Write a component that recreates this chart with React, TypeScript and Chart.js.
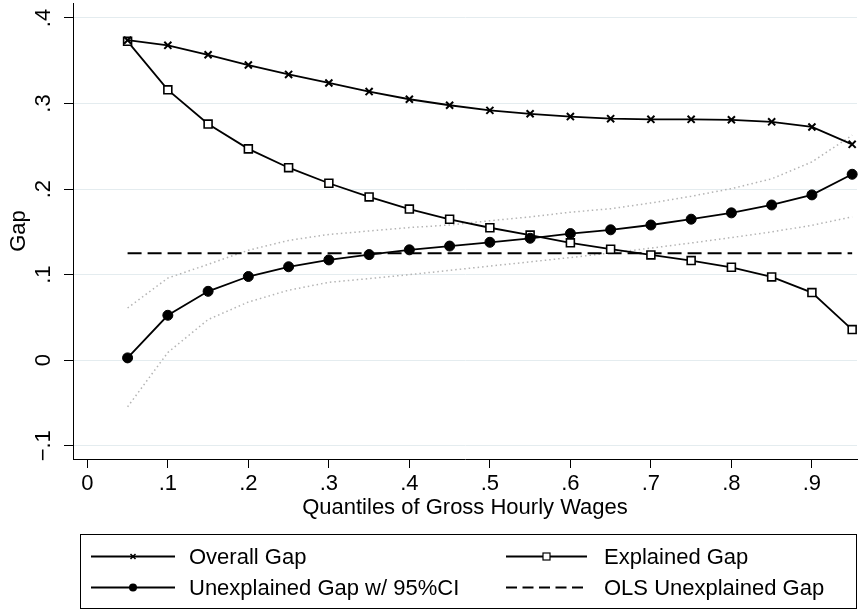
import React, { useEffect, useRef } from 'react';
import { Chart, registerables } from 'chart.js';

Chart.register(...registerables);

// ---------------- data ----------------
const quantiles = [0.05, 0.1, 0.15, 0.2, 0.25, 0.3, 0.35, 0.4, 0.45, 0.5, 0.55, 0.6, 0.65, 0.7, 0.75, 0.8, 0.85, 0.9, 0.95];
const overallGap = [0.374, 0.368, 0.357, 0.345, 0.334, 0.324, 0.314, 0.305, 0.298, 0.292, 0.288, 0.2847, 0.2823, 0.2815, 0.2815, 0.281, 0.2786, 0.2726, 0.2523];
const explainedGap = [0.3727, 0.316, 0.276, 0.247, 0.225, 0.2068, 0.1908, 0.1766, 0.1647, 0.1548, 0.1462, 0.1372, 0.1297, 0.123, 0.1164, 0.1086, 0.0973, 0.079, 0.0358];
const unexplainedGap = [0.0027, 0.0525, 0.0805, 0.0978, 0.1092, 0.1172, 0.1234, 0.129, 0.1334, 0.1378, 0.1425, 0.148, 0.1524, 0.158, 0.1648, 0.1722, 0.1814, 0.1932, 0.2173];
const ciUpper = [0.061, 0.096, 0.112, 0.1285, 0.14, 0.147, 0.151, 0.155, 0.158, 0.163, 0.1675, 0.173, 0.177, 0.1838, 0.1916, 0.2005, 0.212, 0.2317, 0.263];
const ciLower = [-0.0545, 0.009, 0.0475, 0.068, 0.0818, 0.091, 0.0954, 0.1, 0.105, 0.11, 0.1149, 0.12, 0.1253, 0.131, 0.137, 0.1433, 0.1499, 0.1577, 0.1675];
const olsQuantiles = [0.05, 0.95];
const olsGap = [0.125, 0.125];

const xTickValues = [0, 0.1, 0.2, 0.3, 0.4, 0.5, 0.6, 0.7, 0.8, 0.9];
const xTickLabels = ['0', '.1', '.2', '.3', '.4', '.5', '.6', '.7', '.8', '.9'];
const yTickValues = [-0.1, 0, 0.1, 0.2, 0.3, 0.4];
const yTickLabels = ['\u2212.1', '0', '.1', '.2', '.3', '.4'];

const legendLabels = ['Overall Gap', 'Explained Gap', 'Unexplained Gap w/ 95%CI', 'OLS Unexplained Gap'];
const xTitle = 'Quantiles of Gross Hourly Wages';
const yTitle = 'Gap';

const FONT = "'Liberation Sans', Arial, Helvetica, sans-serif";
const FS = 22;

function pts(xs: number[], ys: number[]) {
  return xs.map((x, i) => ({ x, y: ys[i] }));
}

function drawMarker(ctx: CanvasRenderingContext2D, kind: string, x: number, y: number) {
  ctx.save();
  ctx.setLineDash([]);
  ctx.strokeStyle = '#000';
  if (kind === 'crossRot') {
    ctx.lineWidth = 1.5;
    ctx.beginPath();
    ctx.moveTo(x - 2.5, y - 2.5); ctx.lineTo(x + 2.5, y + 2.5);
    ctx.moveTo(x - 2.5, y + 2.5); ctx.lineTo(x + 2.5, y - 2.5);
    ctx.stroke();
  } else if (kind === 'rect') {
    ctx.lineWidth = 1.2;
    ctx.fillStyle = '#fff';
    ctx.fillRect(x - 3.5, y - 3.5, 7, 7);
    ctx.strokeRect(x - 3.5, y - 3.5, 7, 7);
  } else if (kind === 'circle') {
    ctx.fillStyle = '#000';
    ctx.beginPath();
    ctx.arc(x, y, 4, 0, Math.PI * 2);
    ctx.fill();
  }
  ctx.restore();
}

const legendPlugin = {
  id: 'stataLegend',
  afterDraw(chart: any) {
    const ctx: CanvasRenderingContext2D = chart.ctx;
    ctx.save();
    const L = 80, T = 534, R = 857, B = 609;
    ctx.strokeStyle = '#000';
    ctx.lineWidth = 1;
    ctx.strokeRect(L + 0.5, T + 0.5, R - L - 1, B - T - 1);
    const items = [
      { ds: 0, col: 0, row: 0, label: legendLabels[0] },
      { ds: 1, col: 1, row: 0, label: legendLabels[1] },
      { ds: 2, col: 0, row: 1, label: legendLabels[2] },
      { ds: 5, col: 1, row: 1, label: legendLabels[3] },
    ];
    const symX = [91, 506];
    const symW = [84, 81];
    const txtX = [189, 604];
    const rowY = [556.5, 587.5];
    ctx.font = `${FS}px ${FONT}`;
    ctx.textBaseline = 'middle';
    ctx.textAlign = 'left';
    ctx.fillStyle = '#000';
    items.forEach((it) => {
      const ds = chart.data.datasets[it.ds];
      const y = rowY[it.row];
      const x0 = symX[it.col];
      const w = symW[it.col];
      ctx.save();
      ctx.strokeStyle = '#000';
      ctx.lineWidth = 1.8;
      ctx.setLineDash(ds.borderDash ? [11, 5.5] : []);
      ctx.beginPath();
      ctx.moveTo(x0, y);
      ctx.lineTo(x0 + w, y);
      ctx.stroke();
      ctx.restore();
      if (ds.pointRadius > 0) drawMarker(ctx, ds.pointStyle, x0 + w / 2, y);
      ctx.fillText(it.label, txtX[it.col], y + 1);
    });
    ctx.restore();
  },
};

export default function App() {
  const ref = useRef<HTMLCanvasElement | null>(null);
  useEffect(() => {
    if (!ref.current) return;
    Chart.defaults.font.family = FONT;
    Chart.defaults.color = '#000';
    const chart = new Chart(ref.current, {
      type: 'line',
      data: {
        datasets: [
          { label: legendLabels[0], data: pts(quantiles, overallGap), borderColor: '#000', borderWidth: 1.8, pointStyle: 'crossRot', pointRadius: 5, pointBorderWidth: 2, pointBorderColor: '#000', pointBackgroundColor: '#000', order: 1, clip: false },
          { label: legendLabels[1], data: pts(quantiles, explainedGap), borderColor: '#000', borderWidth: 1.8, pointStyle: 'rect', pointRadius: 5.6, pointBorderWidth: 1.6, pointBorderColor: '#000', pointBackgroundColor: '#fff', order: 2, clip: false },
          { label: legendLabels[2], data: pts(quantiles, unexplainedGap), borderColor: '#000', borderWidth: 1.8, pointStyle: 'circle', pointRadius: 5, pointBorderWidth: 1, pointBorderColor: '#000', pointBackgroundColor: '#000', order: 0, clip: false },
          { label: 'Upper 95% CI', data: pts(quantiles, ciUpper), borderColor: '#b4b4b4', borderWidth: 1.5, borderDash: [1.5, 3], pointRadius: 0, order: 5 },
          { label: 'Lower 95% CI', data: pts(quantiles, ciLower), borderColor: '#b4b4b4', borderWidth: 1.5, borderDash: [1.5, 3], pointRadius: 0, order: 6 },
          { label: legendLabels[3], data: pts(olsQuantiles, olsGap), borderColor: '#000', borderWidth: 1.8, borderDash: [14, 6], pointRadius: 0, order: 4 },
        ],
      },
      options: {
        animation: false,
        responsive: false,
        events: [],
        layout: { autoPadding: false, padding: { left: 0, top: 3, right: 1, bottom: 73 } },
        plugins: { legend: { display: false }, tooltip: { enabled: false } },
        scales: {
          x: {
            type: 'linear', min: -0.0178, max: 0.956, bounds: 'data',
            border: { display: true, color: '#000', width: 1 },
            grid: { drawOnChartArea: false, drawTicks: true, tickLength: 9, tickColor: '#000', tickWidth: 1 },
            ticks: { color: '#000', font: { size: FS, family: FONT }, padding: 3, maxRotation: 0, autoSkip: false, callback: (_v: any, i: number) => xTickLabels[i] },
            afterBuildTicks: (s: any) => { s.ticks = xTickValues.map((v) => ({ value: v })); },
            afterFit: (s: any) => { s.height = 78; s.paddingLeft = 0; s.paddingRight = 0; },
            title: { display: true, text: xTitle, color: '#000', font: { size: FS, family: FONT }, padding: { top: 0, bottom: 16 } },
          },
          y: {
            type: 'linear', min: -0.1155, max: 0.4175, bounds: 'data',
            border: { display: true, color: '#000', width: 1 },
            grid: { drawOnChartArea: true, color: '#e4ecef', lineWidth: 1, drawTicks: true, tickLength: 9, tickColor: '#000', tickWidth: 1 },
            ticks: { color: '#000', font: { size: FS, family: FONT }, padding: 4, minRotation: 90, maxRotation: 90, crossAlign: 'center', autoSkip: false, callback: (_v: any, i: number) => yTickLabels[i] },
            afterBuildTicks: (s: any) => { s.ticks = yTickValues.map((v) => ({ value: v })); },
            afterFit: (s: any) => { s.width = 73; s.paddingTop = 0; s.paddingBottom = 0; },
            title: { display: true, text: yTitle, color: '#000', font: { size: FS, family: FONT }, padding: { top: 6, bottom: 0 } },
          },
        },
      } as any,
      plugins: [legendPlugin],
    });
    return () => chart.destroy();
  }, []);
  return (
    <div style={{ position: 'absolute', left: 0, top: 0, width: 858, height: 610, background: '#fff' }}>
      <canvas ref={ref} width={858} height={610} style={{ width: 858, height: 610, display: 'block' }} />
    </div>
  );
}
